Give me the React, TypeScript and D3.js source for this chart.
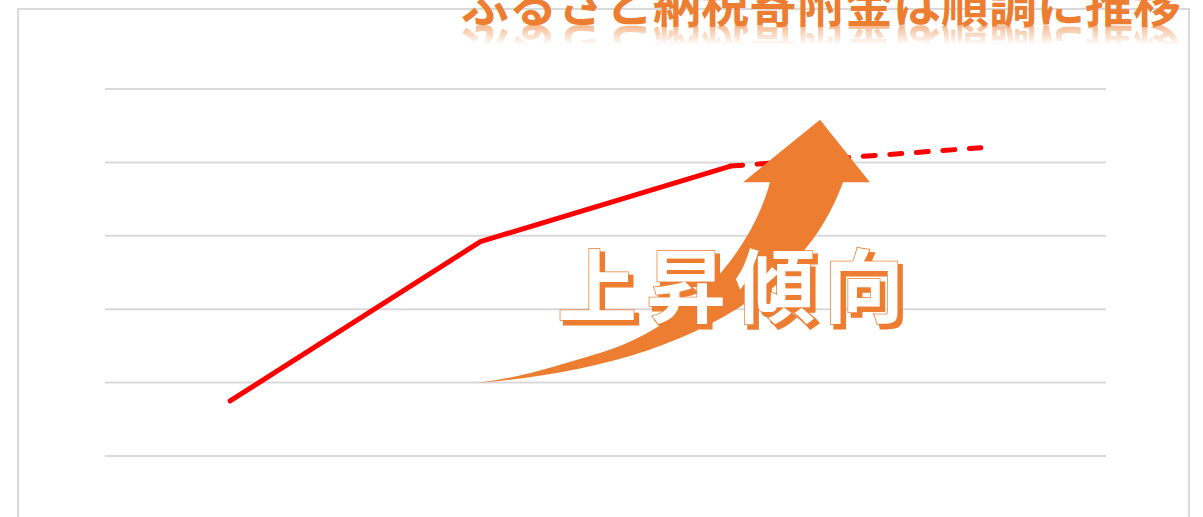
import React from "react";
import * as d3 from "d3";

const categories = ["A", "B", "C", "D"];
const actualValues = [0.75, 2.92, 3.95];
const forecastValues = [3.95, 4.2];
const gridTicks = [0, 1, 2, 3, 4, 5];
const titleText = "ふるさと納税寄附金は順調に推移";
const badgeText = "上昇傾向";

const W = 1203;
const H = 517;
const ORANGE = "#ED7D31";
const FONT = "'Noto Sans CJK JP', 'Noto Sans', sans-serif";

export default function App() {
  const plot = { left: 105, right: 1106, top: 89, bottom: 456 };
  const x = d3.scalePoint<string>().domain(categories).range([plot.left, plot.right]).padding(0.5);
  const y = d3.scaleLinear().domain([0, 5]).range([plot.bottom, plot.top]);

  const line = d3
    .line<[string, number]>()
    .x((d) => x(d[0]) as number)
    .y((d) => y(d[1]));

  const solidPts: [string, number][] = actualValues.map((v, i) => [categories[i], v]);
  const dashPts: [string, number][] = forecastValues.map((v, i) => [categories[i + 2], v]);

  // decorative curved arrow (annotation), positioned relative to plot scales
  const ax = (f: number) => plot.left + f * (plot.right - plot.left);
  const ay = (v: number) => y(v);
  const p = d3.path();
  p.moveTo(ax(0.3716), ay(0.995));
  p.bezierCurveTo(ax(0.5345), ay(1.17), ax(0.6893), ay(1.92), ax(0.7373), ay(3.73));
  p.lineTo(ax(0.7642), ay(3.73));
  p.lineTo(ax(0.7143), ay(4.58));
  p.lineTo(ax(0.6374), ay(3.73));
  p.lineTo(ax(0.6643), ay(3.73));
  p.bezierCurveTo(ax(0.6464), ay(2.81), ax(0.5844), ay(1.785), ax(0.4975), ay(1.417));
  p.bezierCurveTo(ax(0.4545), ay(1.24), ax(0.4146), ay(1.063), ax(0.3716), ay(0.995));
  p.closePath();

  const titleX = 1181;
  const titleBase = 22;
  const mirrorY = 25;

  return (
    <svg
      width={W}
      height={H}
      style={{ position: "absolute", left: 0, top: 0, background: "#fff" }}
      xmlns="http://www.w3.org/2000/svg"
    >
      <defs>
        <linearGradient id="reflGrad" x1="0" y1={mirrorY} x2="0" y2={mirrorY + 20} gradientUnits="userSpaceOnUse">
          <stop offset="0" stopColor="#fff" stopOpacity={0.55} />
          <stop offset="1" stopColor="#fff" stopOpacity={0} />
        </linearGradient>
        <mask id="reflMask" maskUnits="userSpaceOnUse" x={0} y={0} width={W} height={H}>
          <rect x={0} y={mirrorY} width={W} height={20} fill="url(#reflGrad)" />
        </mask>
      </defs>

      {/* frame */}
      <rect x={18} y={9} width={1171} height={H + 20} fill="none" stroke="#d9d9d9" strokeWidth={2} />

      {/* gridlines */}
      {gridTicks.map((t) => (
        <line key={t} x1={plot.left} x2={plot.right} y1={y(t)} y2={y(t)} stroke="#d9d9d9" strokeWidth={2} />
      ))}

      {/* data lines */}
      <path d={line(solidPts) || ""} fill="none" stroke="#FF0000" strokeWidth={5} strokeLinecap="round" strokeLinejoin="round" />
      <path d={line(dashPts) || ""} fill="none" stroke="#FF0000" strokeWidth={5} strokeLinecap="round" strokeDasharray="12 14.6" />

      {/* arrow */}
      <path d={p.toString()} fill={ORANGE} />

      {/* badge text */}
      <g fontFamily={FONT} fontWeight={700} fontSize={80} letterSpacing={9}>
        <text x={561} y={320} fill={ORANGE} stroke={ORANGE} strokeWidth={3}>{badgeText}</text>
        <text x={557} y={316} fill="#fff" stroke={ORANGE} strokeWidth={1.5} paintOrder="stroke">{badgeText}</text>
      </g>

      {/* title with reflection */}
      <g fontFamily={FONT} fontWeight={700} fontSize={48} fill={ORANGE} textAnchor="end">
        <text x={titleX} y={titleBase}>{titleText}</text>
        <g mask="url(#reflMask)">
          <text x={titleX} y={titleBase} transform={`translate(0 ${2 * mirrorY}) scale(1 -1)`}>{titleText}</text>
        </g>
      </g>
    </svg>
  );
}
